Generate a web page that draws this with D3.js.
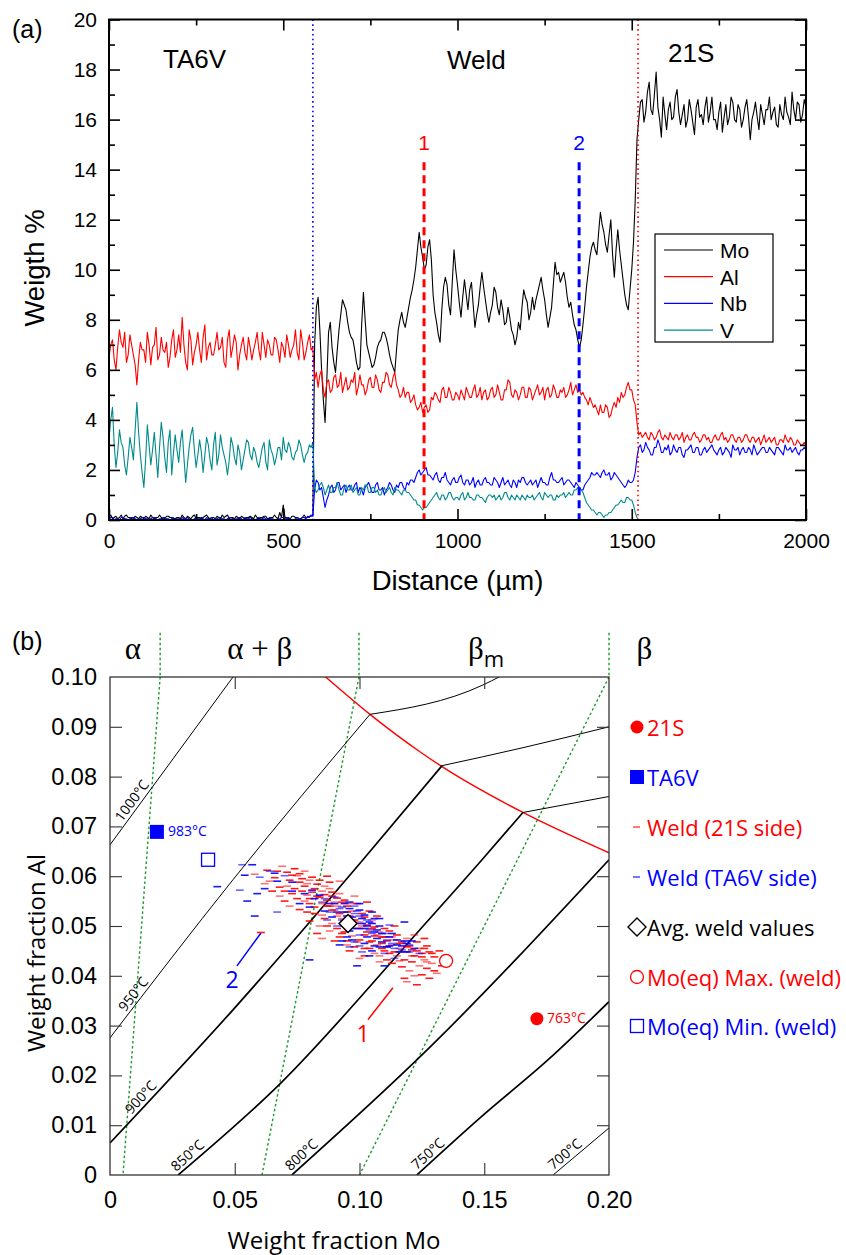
<!DOCTYPE html>
<html><head><meta charset="utf-8">
<script src="https://cdn.jsdelivr.net/npm/d3@7"></script>
<style>body{margin:0;background:#fff}svg{display:block}</style>
</head><body>
<svg id="c" width="846" height="1255"></svg>
<script>
// ---------------- Panel (a) data : line profile, sampled every 5 µm (one row = 100 µm) ----------------
const distanceUm = d3.range(0, 2001, 5);
const moWt = [
 0.10,0.20,0.05,0.10,0.15,0.05,0.10,0.20,0.05,0.15,0.20,0.10,0.10,0.05,0.05,0.15,0.10,0.05,0.15,0.10,
 0.05,0.15,0.10,0.05,0.20,0.10,0.05,0.10,0.10,0.20,0.10,0.05,0.05,0.15,0.15,0.10,0.10,0.05,0.05,0.10,
 0.10,0.05,0.20,0.10,0.05,0.15,0.10,0.05,0.15,0.20,0.05,0.10,0.10,0.05,0.10,0.15,0.20,0.10,0.05,0.10,
 0.10,0.05,0.15,0.10,0.05,0.20,0.10,0.15,0.20,0.05,0.10,0.10,0.05,0.15,0.10,0.05,0.15,0.10,0.05,0.10,
 0.10,0.15,0.10,0.05,0.20,0.10,0.05,0.10,0.10,0.15,0.15,0.05,0.05,0.10,0.10,0.20,0.10,0.05,0.30,0.10,
 0.60,0.10,0.10,0.05,0.05,0.15,0.15,0.10,0.10,0.05,0.05,0.10,0.20,0.10,0.10,0.15,0.15,0.20,7.0,8.5,
 8.9,7.6,6.0,4.8,3.9,5.6,7.5,7.9,6.9,6.3,5.9,6.8,7.6,8.2,8.8,8.6,8.4,7.9,7.5,7.3,
 7.2,6.8,6.3,6.0,6.1,7.8,9.1,8.0,7.0,6.7,6.4,6.1,6.2,6.5,6.9,7.1,7.2,7.5,7.5,7.3,
 7.0,6.6,6.3,6.1,5.9,6.8,7.6,8.0,8.3,7.9,7.7,8.1,8.5,8.9,9.2,9.6,10.1,10.8,11.5,10.9,
 10.5,10.0,10.2,10.9,11.2,10.4,9.0,8.3,7.9,7.4,7.1,8.4,9.3,9.7,9.4,8.6,8.2,9.5,10.8,10.0,
 9.4,8.7,8.1,8.9,9.6,9.0,8.4,9.2,9.5,8.6,7.7,8.2,8.6,9.3,9.9,9.3,8.8,8.3,7.9,8.3,
 8.6,9.3,9.1,8.5,8.2,8.8,8.4,7.8,7.9,8.5,8.1,7.6,7.4,7.0,7.3,7.9,7.6,8.5,9.2,8.9,
 8.7,8.0,8.3,8.9,8.4,8.8,9.1,9.4,9.7,9.2,8.8,8.2,7.7,8.1,8.5,9.4,10.3,9.8,9.9,9.5,
 9.7,9.9,9.5,8.9,8.5,8.7,8.2,7.8,7.6,7.2,6.9,7.2,7.8,8.5,9.3,9.9,10.5,10.9,11.1,10.8,
 10.6,11.5,12.3,11.8,11.5,11.0,10.7,11.4,12.0,10.6,9.7,10.8,11.6,10.8,10.2,9.6,9.0,8.6,8.4,9.2,
 10.0,11.1,12.8,15.2,16.0,16.7,16.8,15.9,16.3,17.1,17.5,16.4,16.2,17.0,17.9,16.5,16.0,15.3,16.9,16.2,
 15.6,16.4,16.7,16.0,16.1,16.9,17.2,16.3,15.8,16.2,16.6,15.7,16.0,16.8,16.4,15.9,15.4,16.5,16.8,16.1,
 16.2,15.8,16.5,16.9,15.9,16.3,16.9,16.0,16.0,15.6,16.3,16.7,15.5,16.1,16.6,15.8,16.1,16.9,16.7,16.0,
 15.9,16.6,16.4,15.7,16.0,16.5,16.8,16.1,15.2,16.0,16.3,16.7,16.1,15.6,16.6,16.2,15.8,16.4,16.4,16.9,
 16.0,16.3,16.5,15.8,15.7,16.6,16.2,16.0,16.9,16.3,16.1,15.8,17.1,16.4,16.0,16.7,16.6,15.9,16.2,16.8,
 16.5];
const alWt = [
 6.5,7.0,7.2,6.4,6.0,6.9,7.6,7.1,6.9,7.5,6.3,6.6,7.4,7.0,6.6,6.2,5.4,6.4,7.1,6.8,
 6.8,6.3,7.5,7.0,6.2,6.9,7.0,7.7,6.4,6.6,7.3,6.8,6.7,7.1,6.1,6.5,7.2,7.6,6.5,6.8,
 7.4,6.7,8.1,7.0,6.3,6.0,7.6,7.2,6.2,6.7,7.0,7.5,6.8,6.3,7.3,7.8,6.4,6.9,7.1,6.6,
 6.6,7.0,7.5,6.8,6.9,7.3,6.3,6.1,7.2,7.6,6.5,6.9,7.4,7.1,6.0,6.6,7.0,7.3,6.7,6.4,
 7.3,6.9,6.4,6.8,7.1,7.5,6.8,6.4,7.5,7.0,6.5,7.2,7.0,6.6,6.6,7.3,7.2,6.8,6.3,7.1,
 6.9,6.5,7.4,7.0,6.5,6.8,7.0,7.6,6.7,6.4,7.6,7.1,6.4,6.7,7.1,7.4,6.8,6.9,5.6,5.9,
 5.3,5.8,6.0,5.2,4.9,5.5,5.6,5.1,5.2,5.7,5.8,5.3,5.4,5.9,5.1,5.4,5.7,5.2,5.3,5.6,
 5.5,5.9,5.0,5.3,5.8,5.4,5.4,5.0,5.2,5.6,5.7,5.3,5.3,5.8,5.6,5.2,5.1,5.5,5.5,5.9,
 5.8,5.4,5.3,5.7,5.9,5.4,5.2,4.9,5.0,5.3,4.9,5.1,5.1,4.7,4.8,5.0,4.6,4.4,4.5,4.7,
 4.3,4.5,4.6,4.3,4.4,4.9,4.8,5.1,5.0,4.8,4.7,5.2,5.3,4.9,4.9,5.3,5.1,4.8,4.8,5.1,
 5.0,4.8,5.2,5.0,4.8,5.3,5.1,4.9,4.9,5.2,5.4,4.9,5.0,5.3,4.8,5.1,5.2,4.8,4.9,5.2,
 5.3,4.9,5.0,5.4,5.1,4.8,4.8,5.2,5.2,5.6,5.5,5.0,4.9,5.2,5.1,4.8,5.0,5.3,5.3,4.9,
 4.9,5.3,5.2,4.8,5.0,5.2,5.4,5.0,5.1,5.3,4.8,5.2,5.3,4.9,5.0,5.4,5.2,4.9,4.9,5.2,
 5.1,5.3,4.9,5.0,5.2,5.5,5.0,5.2,5.4,5.1,5.2,5.0,5.1,4.9,4.8,4.6,4.9,4.7,4.5,4.6,
 4.4,4.2,4.6,4.3,4.3,4.6,4.5,4.1,4.2,4.5,4.7,4.5,4.9,4.7,5.1,4.9,5.0,5.3,5.5,5.2,
 5.2,4.8,4.6,3.9,3.4,3.5,3.3,3.4,3.5,3.3,3.2,3.5,3.4,3.2,3.3,3.5,3.6,3.3,3.2,3.4,
 3.3,3.2,3.5,3.3,3.2,3.4,3.4,3.2,3.3,3.5,3.1,3.3,3.4,3.2,3.2,3.4,3.5,3.3,3.3,3.1,
 3.2,3.4,3.4,3.2,3.3,3.1,3.1,3.3,3.4,3.2,3.2,3.4,3.5,3.2,3.3,3.1,3.2,3.4,3.4,3.2,
 3.1,3.3,3.3,3.1,3.2,3.4,3.4,3.2,3.1,3.3,3.3,3.1,3.2,3.3,3.0,3.2,3.4,3.1,3.2,3.3,
 3.1,3.2,3.3,3.0,3.0,3.2,3.2,3.1,3.4,3.2,3.1,3.3,3.2,3.0,3.0,3.2,3.1,3.0,3.0,3.1,
 3.0];
const nbWt = [
 0.05,0.10,0.10,0.00,0.05,0.05,0.00,0.10,0.10,0.05,0.05,0.00,0.05,0.10,0.10,0.05,0.00,0.05,0.05,0.10,
 0.10,0.05,0.05,0.00,0.05,0.10,0.10,0.05,0.00,0.05,0.05,0.10,0.10,0.05,0.05,0.00,0.05,0.10,0.00,0.05,
 0.05,0.00,0.10,0.05,0.05,0.10,0.05,0.00,0.00,0.05,0.10,0.05,0.05,0.10,0.05,0.00,0.10,0.05,0.05,0.10,
 0.00,0.05,0.05,0.10,0.10,0.05,0.05,0.00,0.05,0.10,0.10,0.05,0.00,0.05,0.05,0.10,0.05,0.00,0.10,0.05,
 0.05,0.10,0.05,0.00,0.00,0.05,0.10,0.05,0.05,0.10,0.05,0.00,0.10,0.05,0.05,0.00,0.00,0.05,0.05,0.10,
 0.10,0.05,0.05,0.10,0.05,0.00,0.00,0.05,0.10,0.05,0.05,0.10,0.10,0.05,0.15,0.10,0.20,0.15,1.2,1.6,
 1.5,1.2,1.3,0.9,0.5,0.8,1.0,1.3,1.4,1.1,1.2,1.5,1.5,1.2,1.3,1.4,1.1,1.3,1.4,1.2,
 1.2,1.4,1.5,1.1,1.3,1.2,1.0,1.3,1.4,1.5,1.3,1.1,1.1,1.4,1.5,1.2,1.2,1.3,1.0,1.2,
 1.3,1.5,1.4,1.2,1.1,1.4,1.3,1.5,1.5,1.3,1.2,1.5,1.4,1.6,1.6,1.5,1.7,1.9,2.0,1.8,
 1.9,2.0,2.1,1.8,1.8,1.7,1.6,1.8,1.9,1.6,1.5,1.7,1.7,1.9,1.6,1.5,1.4,1.6,1.7,1.5,
 1.5,1.7,1.8,1.5,1.4,1.6,1.6,1.4,1.5,1.7,1.3,1.5,1.6,1.4,1.4,1.6,1.7,1.5,1.5,1.4,
 1.4,1.7,1.6,1.5,1.3,1.5,1.7,1.4,1.5,1.6,1.4,1.3,1.6,1.5,1.3,1.6,1.5,1.7,1.7,1.5,
 1.4,1.5,1.6,1.4,1.5,1.6,1.3,1.5,1.7,1.5,1.5,1.4,1.4,1.7,1.9,1.6,1.6,1.5,1.5,1.6,
 1.7,1.4,1.5,1.6,1.6,1.5,1.4,1.3,1.5,1.4,1.3,1.2,1.2,1.4,1.5,1.6,1.7,1.9,1.8,1.8,
 1.9,1.8,1.7,1.9,2.0,1.8,1.8,1.9,1.6,1.7,1.9,1.8,1.7,1.6,1.5,1.4,1.3,1.4,1.6,1.5,
 1.5,1.6,1.9,2.5,2.9,3.0,2.7,2.8,3.1,2.9,2.8,2.6,2.6,2.9,2.9,3.2,3.0,2.7,2.7,2.9,
 2.8,3.0,2.6,2.7,3.0,2.8,2.7,2.9,2.9,2.6,2.5,2.8,2.8,2.9,3.0,2.7,2.7,2.9,2.9,2.6,
 2.6,2.8,2.9,2.7,2.8,2.9,3.0,2.8,2.7,2.6,2.8,2.9,2.6,2.7,2.9,2.8,2.7,2.5,3.0,2.8,
 2.8,2.9,2.6,2.8,2.9,2.7,2.7,2.9,2.8,2.6,3.0,2.8,2.6,2.7,2.8,2.9,2.9,2.7,2.7,2.9,
 2.8,2.7,2.6,2.9,2.9,2.8,2.7,2.6,3.0,2.8,2.8,2.9,2.7,2.8,2.9,2.7,2.6,2.8,2.8,2.9,
 2.8];
const vWt = [
 3.2,4.0,4.5,3.0,2.1,2.7,3.6,3.1,2.9,2.2,1.8,2.5,3.3,2.9,2.4,3.6,4.7,3.5,2.6,1.9,
 1.3,2.4,3.8,3.0,2.2,2.8,3.5,2.6,1.7,2.9,3.9,3.3,2.5,1.9,3.1,3.6,1.8,2.7,3.4,2.8,
 2.3,3.1,3.6,2.5,1.5,2.2,2.9,3.4,3.7,2.8,2.1,2.6,3.2,2.7,1.9,2.6,3.3,3.0,2.4,2.0,
 3.0,3.5,2.2,2.6,3.4,2.9,2.6,2.3,1.8,2.4,3.3,3.0,2.5,2.2,3.0,2.7,2.0,2.4,2.8,3.2,
 3.1,2.6,2.4,2.9,2.7,2.3,2.1,2.5,2.9,3.1,2.3,2.0,3.2,2.8,2.6,2.2,2.5,2.9,2.9,2.4,
 3.3,2.8,2.7,3.1,2.9,2.5,2.4,2.7,2.8,3.2,3.0,2.6,2.3,2.6,2.7,3.0,2.9,3.1,1.3,1.1,
 1.2,1.4,1.5,1.3,1.0,1.2,1.4,1.1,1.1,1.3,1.3,1.5,1.2,1.0,1.0,1.3,1.4,1.2,1.2,1.4,
 1.1,1.2,1.3,1.0,1.0,1.3,1.2,1.4,1.4,1.1,1.1,1.3,1.3,1.1,1.2,1.0,1.0,1.2,1.3,1.1,
 1.2,1.3,1.1,1.0,1.3,1.2,1.2,1.1,1.0,1.2,1.2,1.1,1.1,1.0,0.9,0.8,0.8,0.6,0.6,0.5,
 0.4,0.5,0.5,0.6,0.7,0.8,0.9,1.0,1.1,0.9,0.8,1.0,1.0,0.8,0.9,1.1,1.1,0.9,0.8,0.9,
 0.9,0.8,1.0,1.1,0.8,0.9,1.1,0.9,0.9,0.8,0.8,1.0,1.0,0.9,0.9,0.8,0.7,0.9,1.0,1.0,
 0.9,1.0,0.8,0.9,1.0,0.8,0.9,1.1,1.1,0.9,0.8,1.0,0.9,0.8,1.0,0.9,0.8,1.0,0.9,0.8,
 1.0,0.9,0.9,1.0,0.8,0.9,1.0,1.1,0.9,0.8,1.1,1.0,0.9,1.0,1.0,0.8,0.8,1.0,0.9,1.0,
 1.0,1.1,0.9,1.0,1.1,1.0,1.0,1.2,1.2,1.3,1.3,1.2,1.1,0.9,0.7,0.6,0.5,0.4,0.4,0.3,
 0.2,0.3,0.3,0.2,0.1,0.2,0.2,0.3,0.3,0.4,0.5,0.6,0.6,0.7,0.8,0.7,0.7,0.9,0.9,0.8,
 0.8,0.6,0.3,0.1,0,0,0,0,0,0,0,0,0,0,0,0,0,0,0,0,
 0,0,0,0,0,0,0,0,0,0,0,0,0,0,0,0,0,0,0,0,
 0,0,0,0,0,0,0,0,0,0,0,0,0,0,0,0,0,0,0,0,
 0,0,0,0,0,0,0,0,0,0,0,0,0,0,0,0,0,0,0,0,
 0,0,0,0,0,0,0,0,0,0,0,0,0,0,0,0,0,0,0,0,
 0];
const seriesNames = ['Mo','Al','Nb','V'];
const xTicksA = [0,500,1000,1500,2000];
const xMinorA = [250,750,1250,1750];
const yTicksA = [0,2,4,6,8,10,12,14,16,18,20];
const yMinorA = [1,3,5,7,9,11,13,15,17,19];
const zoneBoundsUm = [585, 1518];          // TA6V|Weld, Weld|21S
const zoneNames = ['TA6V','Weld','21S'];
const zoneLabelUm = [155, 970, 1604];
const profileLinesUm = [{id:'1', x:904, top:14.3}, {id:'2', x:1349, top:14.3}];

// ---------------- Panel (b) data : Mo–Al diagram ----------------
const xTicksB = [0,0.05,0.10,0.15,0.20];
const yTicksB = [0,0.01,0.02,0.03,0.04,0.05,0.06,0.07,0.08,0.09,0.10];
const isoLabels = ['1000°C','950°C','900°C','850°C','800°C','750°C','700°C'];
const isoSteep = [
 [[0,0.0663],[0.0493,0.1]],
 [[0,0.02754],[0.0493,0.0593],[0.1042,0.0925]],
 [[0,0.00643],[0.0493,0.03317],[0.1014,0.0633],[0.1331,0.0822]],
 [[0.0273,0],[0.0669,0.01769],[0.1242,0.04925],[0.1491,0.0633],[0.1655,0.0728]],
 [[0.0729,0],[0.1242,0.0237],[0.2,0.0633]],
 [[0.1230,0],[0.1483,0.01146],[0.1764,0.0235],[0.2,0.0348]],
 [[0.1776,0],[0.2,0.00945]]
];
const isoFlat = [
 null,
 [[0.1042,0.0925],[0.1495,0.0984],[0.1563,0.1001]],
 [[0.1331,0.0822],[0.1655,0.0858],[0.2,0.0900]],
 [[0.1655,0.0728],[0.2,0.0760]],
 null, null, null
];
const isoHeavy = [false,false,true,true,true,true,false];
const isoLabelMo = [0.0115,0.012,0.0148,0.0333,0.079,0.1297,0.1845];
const betaMBoundary = [[0.0862,0.1001],[0.1042,0.0925],[0.1242,0.0850],[0.1331,0.0820],[0.1655,0.0728],[0.2,0.0647]];
const phaseLimits = [ [[0.0201,0.1],[0.0052,0]], [[0.0998,0.1],[0.0609,0]], [[0.2,0.1],[0.1000,0]] ];
const phaseLimitTopAl = 0.1089;
const regionNames = ['α','α + β','β','β'];
const regionMo = [0.0092,0.060,0.1435,0.2142];
const base21S = [0.1711,0.0314], base21STemp = '763°C';
const baseTA6V = [0.0188,0.0689], baseTA6VTemp = '983°C';
const avgWeld = [0.0954,0.0505];
const moEqMax = [0.1347,0.0430];
const moEqMin = [0.0393,0.0633];
const profileMarksB = [ {id:'1', from:[0.1034,0.0312], to:[0.1134,0.0376]}, {id:'2', from:[0.0509,0.0420], to:[0.0605,0.0486]} ];
const weld21S = [
 [0.058,0.0604],[0.063,0.0612],[0.066,0.0597],[0.069,0.0620],[0.071,0.0608],[0.074,0.0615],[0.062,0.0585],[0.068,0.0578],[0.072,0.0592],[0.075,0.0601],
 [0.076,0.0588],[0.078,0.0580],[0.080,0.0592],[0.082,0.0575],[0.077,0.0570],[0.079,0.0562],[0.081,0.0568],[0.083,0.0584],[0.085,0.0570],[0.084,0.0558],
 [0.086,0.0563],[0.088,0.0575],[0.087,0.0552],[0.089,0.0560],[0.090,0.0548],[0.073,0.0565],[0.075,0.0555],[0.078,0.0550],[0.080,0.0545],[0.082,0.0538],
 [0.085,0.0545],[0.088,0.0540],[0.091,0.0556],[0.092,0.0565],[0.094,0.0552],[0.070,0.0550],[0.072,0.0540],[0.076,0.0533],[0.079,0.0528],
 [0.090,0.0532],[0.092,0.0525],[0.095,0.0540],[0.097,0.0530],[0.099,0.0545],[0.101,0.0525],[0.093,0.0515],[0.096,0.0520],[0.098,0.0512],[0.100,0.0508],
 [0.102,0.0518],[0.104,0.0530],[0.089,0.0505],[0.091,0.0495],[0.094,0.0488],[0.097,0.0480],[0.100,0.0495],[0.103,0.0502],[0.105,0.0512],[0.106,0.0498],
 [0.086,0.0515],[0.088,0.0490],[0.092,0.0478],[0.095,0.0470],[0.099,0.0468],[0.102,0.0482],[0.107,0.0520],[0.084,0.0500],[0.083,0.0485],[0.090,0.0470],
 [0.108,0.0488],[0.110,0.0478],[0.112,0.0490],[0.114,0.0472],[0.109,0.0465],[0.111,0.0458],[0.113,0.0462],[0.115,0.0482],[0.117,0.0468],[0.116,0.0455],
 [0.118,0.0448],[0.120,0.0460],[0.119,0.0475],[0.121,0.0452],[0.122,0.0440],[0.124,0.0455],[0.123,0.0468],[0.125,0.0445],[0.126,0.0432],[0.127,0.0460],
 [0.128,0.0448],[0.129,0.0425],[0.130,0.0438],[0.127,0.0415],[0.124,0.0420],[0.121,0.0428],[0.118,0.0432],[0.115,0.0440],[0.112,0.0445],[0.110,0.0450],
 [0.107,0.0462],[0.105,0.0470],[0.104,0.0455],[0.108,0.0440],[0.113,0.0425],[0.117,0.0418],[0.120,0.0410],[0.125,0.0402],[0.128,0.0395],[0.131,0.0405],
 [0.132,0.0450],[0.126,0.0475],[0.122,0.0482],[0.110,0.0495],[0.106,0.0480],
 [0.100,0.0435],[0.096,0.0450],[0.102,0.0440],[0.085,0.0475],[0.080,0.0510],[0.114,0.0500],[0.119,0.0388],[0.123,0.0382],[0.133,0.0420],[0.068,0.0560],
 [0.065,0.0570],[0.0605,0.0487],[0.098,0.0560],[0.103,0.0548],[0.087,0.0600],[0.078,0.0610],
 [0.074,0.0575],[0.077,0.0595],[0.079,0.0585],[0.081,0.0598],[0.083,0.0560],[0.086,0.0580],[0.084,0.0592],[0.089,0.0568],[0.091,0.0540],[0.093,0.0548],
 [0.095,0.0528],[0.097,0.0545],[0.096,0.0505],[0.094,0.0500],[0.101,0.0500],[0.103,0.0488],[0.105,0.0495],[0.107,0.0482],[0.109,0.0478],[0.111,0.0470],
 [0.113,0.0478],[0.116,0.0465],[0.119,0.0458],[0.121,0.0440],[0.123,0.0450],[0.125,0.0438],[0.127,0.0428],[0.129,0.0445],[0.126,0.0455],[0.116,0.0430],
 [0.114,0.0448],[0.109,0.0455],[0.106,0.0445],[0.102,0.0455],[0.098,0.0458],[0.095,0.0462],[0.093,0.0485],[0.087,0.0500],[0.085,0.0522],[0.082,0.0525],
 [0.080,0.0555],[0.071,0.0580],[0.073,0.0602],[0.067,0.0610],[0.064,0.0590],[0.070,0.0570],[0.076,0.0605],[0.092,0.0590],[0.088,0.0588],[0.130,0.0410],
 [0.122,0.0400],[0.118,0.0395],[0.111,0.0432],[0.108,0.0428],[0.104,0.0468],[0.100,0.0472],[0.097,0.0495],[0.089,0.0532],[0.087,0.0540],[0.091,0.0520]
];
const weldTA6V = [
 [0.043,0.0579],[0.053,0.0623],[0.057,0.0623],[0.054,0.0602],[0.060,0.0598],[0.066,0.0606],[0.067,0.0590],[0.052,0.0572],[0.055,0.0550],[0.062,0.0575],
 [0.070,0.0601],[0.073,0.0588],[0.058,0.0520],[0.067,0.0528],
 [0.078,0.0565],[0.082,0.0555],[0.085,0.0548],[0.088,0.0545],[0.080,0.0538],[0.090,0.0558],[0.076,0.0545],[0.086,0.0530],
 [0.092,0.0535],[0.094,0.0528],[0.096,0.0535],[0.098,0.0525],[0.100,0.0532],[0.102,0.0522],[0.093,0.0512],[0.097,0.0508],[0.101,0.0505],[0.103,0.0512],
 [0.105,0.0505],[0.099,0.0495],[0.104,0.0492],[0.106,0.0488],[0.108,0.0500],[0.100,0.0482],[0.103,0.0478],[0.107,0.0475],[0.110,0.0485],[0.112,0.0478],
 [0.109,0.0468],[0.113,0.0465],[0.115,0.0472],[0.111,0.0458],[0.114,0.0455],[0.117,0.0460],[0.096,0.0490],[0.091,0.0500],[0.089,0.0518],[0.095,0.0478],
 [0.098,0.0468],[0.102,0.0465],[0.106,0.0460],[0.110,0.0445],[0.116,0.0448],[0.118,0.0470],[0.120,0.0462],[0.105,0.0528],[0.108,0.0515],[0.112,0.0502],
 [0.100,0.0545],[0.094,0.0545],[0.088,0.0528],
 [0.119,0.0448],[0.122,0.0455],[0.124,0.0445],[0.121,0.0470],[0.104,0.0440],[0.096,0.0458],[0.092,0.0462],[0.080,0.0432],[0.114,0.0435],[0.110,0.0420],
 [0.118,0.0508],[0.100,0.0460],[0.099,0.0420],
 [0.091,0.0528],[0.093,0.0538],[0.095,0.0520],[0.097,0.0518],[0.099,0.0530],[0.101,0.0515],[0.103,0.0500],[0.105,0.0485],[0.107,0.0492],[0.109,0.0485],
 [0.111,0.0472],[0.113,0.0485],[0.115,0.0462],[0.117,0.0452],[0.119,0.0465],[0.102,0.0495],[0.098,0.0505],[0.104,0.0508],[0.106,0.0515],[0.100,0.0520],
 [0.094,0.0510],[0.096,0.0548],[0.098,0.0540],[0.108,0.0458],[0.112,0.0460],[0.120,0.0448],[0.084,0.0562],[0.081,0.0572],[0.086,0.0555],[0.090,0.0545],
 [0.073,0.0570],[0.064,0.0610],[0.059,0.0565],[0.105,0.0450],[0.101,0.0448],[0.097,0.0472],[0.093,0.0470],[0.087,0.0512]
];
const legendB = ['21S','TA6V','Weld (21S side)','Weld (TA6V side)','Avg. weld values','Mo(eq) Max. (weld)','Mo(eq) Min. (weld)'];

// ================= drawing =================
const RED='#ff0000', BLUE='#0000ff', TEAL='#008b8b';
const svg = d3.select('#c');
const defs = svg.append('defs');

// ---------- Panel (a) ----------
const xa = d3.scaleLinear().domain([0,2000]).range([109,806]);
const ya = d3.scaleLinear().domain([0,20]).range([520,19.5]);
defs.append('clipPath').attr('id','clipA').append('rect')
  .attr('x',xa(0)).attr('y',ya(20)).attr('width',xa(2000)-xa(0)).attr('height',ya(0)-ya(20)+1);
const A = svg.append('g').attr('font-family','"Liberation Sans", Arial, sans-serif');
const seriesData = [moWt, alWt, nbWt, vWt];
const seriesColor = ['#000000', RED, BLUE, TEAL];
const lineA = d3.line().x((d,i)=>xa(distanceUm[i])).y(d=>ya(d));
const plotA = A.append('g').attr('clip-path','url(#clipA)');
seriesData.forEach((vals,k)=>{
  plotA.append('path').attr('d', lineA(vals)).attr('fill','none')
    .attr('stroke', seriesColor[k]).attr('stroke-width',1.1).attr('stroke-linejoin','round');
});
plotA.append('line').attr('x1',xa(zoneBoundsUm[0])).attr('x2',xa(zoneBoundsUm[0]))
  .attr('y1',ya(20)).attr('y2',ya(0)).attr('stroke',BLUE).attr('stroke-width',1.6).attr('stroke-dasharray','1.6,3.2');
plotA.append('line').attr('x1',xa(zoneBoundsUm[1])).attr('x2',xa(zoneBoundsUm[1]))
  .attr('y1',ya(20)).attr('y2',ya(0)).attr('stroke',RED).attr('stroke-width',1.6).attr('stroke-dasharray','1.6,3.2');
profileLinesUm.forEach((p,i)=>{
  const col = i===0?RED:BLUE;
  plotA.append('line').attr('x1',xa(p.x)).attr('x2',xa(p.x)).attr('y1',ya(p.top)).attr('y2',ya(0))
    .attr('stroke',col).attr('stroke-width',3).attr('stroke-dasharray','8,5');
  A.append('text').attr('x',xa(p.x)).attr('y',ya(p.top)-12).attr('text-anchor','middle')
    .attr('font-size',21).attr('fill',col).text(p.id);
});
function styleAxis(g, fs){
  g.select('.domain').remove();
  g.selectAll('.tick line').attr('stroke','#000').attr('stroke-width',1.6);
  g.selectAll('.tick text').attr('font-size',fs).attr('fill','#000').attr('font-family',null);
}
A.append('g').attr('transform',`translate(0,${ya(0)})`)
  .call(d3.axisBottom(xa).tickValues(xTicksA).tickSize(-11).tickPadding(13).tickFormat(d3.format('d'))).call(g=>styleAxis(g,21));
A.append('g').attr('transform',`translate(0,${ya(0)})`)
  .call(d3.axisBottom(xa).tickValues(xMinorA).tickSize(-6).tickFormat('')).call(g=>styleAxis(g,21));
A.append('g').attr('transform',`translate(0,${ya(20)})`)
  .call(d3.axisTop(xa).tickValues(xTicksA).tickSize(-11).tickFormat('')).call(g=>styleAxis(g,21));
A.append('g').attr('transform',`translate(0,${ya(20)})`)
  .call(d3.axisTop(xa).tickValues(xMinorA).tickSize(-6).tickFormat('')).call(g=>styleAxis(g,21));
A.append('g').attr('transform',`translate(${xa(0)},0)`)
  .call(d3.axisLeft(ya).tickValues(yTicksA).tickSize(-11).tickPadding(12).tickFormat(d3.format('d'))).call(g=>styleAxis(g,21));
A.append('g').attr('transform',`translate(${xa(0)},0)`)
  .call(d3.axisLeft(ya).tickValues(yMinorA).tickSize(-6).tickFormat('')).call(g=>styleAxis(g,21));
A.append('g').attr('transform',`translate(${xa(2000)},0)`)
  .call(d3.axisRight(ya).tickValues(yTicksA).tickSize(-11).tickFormat('')).call(g=>styleAxis(g,21));
A.append('g').attr('transform',`translate(${xa(2000)},0)`)
  .call(d3.axisRight(ya).tickValues(yMinorA).tickSize(-6).tickFormat('')).call(g=>styleAxis(g,21));
A.append('rect').attr('x',xa(0)).attr('y',ya(20)).attr('width',xa(2000)-xa(0)).attr('height',ya(0)-ya(20))
  .attr('fill','none').attr('stroke','#000').attr('stroke-width',2);
const zoneBase = [68,69,62];
zoneNames.forEach((n,i)=>A.append('text').attr('x',xa(zoneLabelUm[i])).attr('y',zoneBase[i])
  .attr('font-size',26).text(n));
A.append('text').attr('x',12).attr('y',38).attr('font-size',25).text('(a)');
A.append('text').attr('transform',`translate(44,268) rotate(-90)`).attr('text-anchor','middle')
  .attr('font-size',27.5).text('Weigth %');
A.append('text').attr('x',(xa(0)+xa(2000))/2).attr('y',590).attr('text-anchor','middle')
  .attr('font-size',27.5).text('Distance (µm)');
const LA = A.append('g');
LA.append('rect').attr('x',655).attr('y',234).attr('width',118).attr('height',108).attr('fill','#fff').attr('stroke','#000').attr('stroke-width',1.2);
seriesNames.forEach((n,i)=>{
  const yy = 250 + i*26.7;
  LA.append('line').attr('x1',664).attr('x2',713).attr('y1',yy).attr('y2',yy).attr('stroke',seriesColor[i]).attr('stroke-width',1.2);
  LA.append('text').attr('x',720).attr('y',yy+8).attr('font-size',21).text(n);
});

// ---------- Panel (b) ----------
const xb = d3.scaleLinear().domain([0,0.2]).range([110,609]);
const yb = d3.scaleLinear().domain([0,0.1]).range([1175,677]);
defs.append('clipPath').attr('id','clipB').append('rect')
  .attr('x',xb(0)).attr('y',yb(0.1)).attr('width',xb(0.2)-xb(0)).attr('height',yb(0)-yb(0.1));
const B = svg.append('g').attr('font-family','"Open Sans", "Noto Sans", sans-serif');
const plotB = B.append('g').attr('clip-path','url(#clipB)');
const lineB = d3.line().x(d=>xb(d[0])).y(d=>yb(d[1]));
phaseLimits.forEach(p=>{
  plotB.append('path').attr('d',lineB(p)).attr('fill','none').attr('stroke','#1a9a2a').attr('stroke-width',1.4).attr('stroke-dasharray','2.5,2.5');
  B.append('line').attr('x1',xb(p[0][0])).attr('x2',xb(p[0][0])).attr('y1',yb(phaseLimitTopAl)).attr('y2',yb(0.1))
    .attr('stroke','#1a9a2a').attr('stroke-width',1.4).attr('stroke-dasharray','2.5,2.5');
});
plotB.append('path').attr('d',d3.line().x(d=>xb(d[0])).y(d=>yb(d[1])).curve(d3.curveMonotoneX)(betaMBoundary))
  .attr('fill','none').attr('stroke',RED).attr('stroke-width',1.4);
const lineIso = d3.line().x(d=>xb(d[0])).y(d=>yb(d[1])).curve(d3.curveMonotoneX);
isoSteep.forEach((pts,i)=>{
  const w = isoHeavy[i]?1.7:1.0;
  plotB.append('path').attr('d',lineIso(pts)).attr('fill','none').attr('stroke','#000').attr('stroke-width',w);
  if(isoFlat[i]) plotB.append('path').attr('d',lineIso(isoFlat[i])).attr('fill','none').attr('stroke','#000').attr('stroke-width',1.0);
  const m = isoLabelMo[i];
  let k = 0; while(k < pts.length-2 && pts[k+1][0] < m) k++;
  const a = pts[k], b = pts[k+1];
  const t = (m-a[0])/(b[0]-a[0]);
  const al = a[1] + t*(b[1]-a[1]);
  const ang = Math.atan2(yb(b[1])-yb(a[1]), xb(b[0])-xb(a[0]))*180/Math.PI;
  B.append('text').attr('transform',`translate(${xb(m)},${yb(al)}) rotate(${ang})`)
    .attr('text-anchor','middle').attr('dy',-3.5).attr('font-size',14).text(isoLabels[i]);
});
profileMarksB.forEach((p,i)=>{
  const col = i===0?RED:BLUE;
  B.append('line').attr('x1',xb(p.from[0])).attr('y1',yb(p.from[1])).attr('x2',xb(p.to[0])).attr('y2',yb(p.to[1]))
    .attr('stroke',col).attr('stroke-width',1.5);
  B.append('text').attr('x',xb(p.from[0])-5).attr('y',yb(p.from[1])+22).attr('text-anchor','middle')
    .attr('font-size',23).attr('fill',col).text(p.id);
});
function dash(g, d, col, op){
  g.append('line').attr('x1',xb(d[0])-3.9).attr('x2',xb(d[0])+3.9).attr('y1',yb(d[1])).attr('y2',yb(d[1]))
    .attr('stroke',col).attr('stroke-width',1.6).attr('opacity',op);
}
const WR = B.append('g'), WB = B.append('g');
weld21S.forEach((d,i)=>dash(WR,d,RED, i%3===0?0.55:0.9));
weldTA6V.forEach((d,i)=>dash(WB,d,BLUE, i%3===1?0.6:0.9));
B.append('path').attr('d',d3.symbol(d3.symbolSquare, 196)()).attr('transform',`translate(${xb(baseTA6V[0])},${yb(baseTA6V[1])})`).attr('fill',BLUE);
B.append('text').attr('x',xb(baseTA6V[0])+11).attr('y',yb(baseTA6V[1])+4).attr('font-size',14).attr('fill',BLUE).text(baseTA6VTemp);
B.append('circle').attr('cx',xb(base21S[0])).attr('cy',yb(base21S[1])).attr('r',6.5).attr('fill',RED);
B.append('text').attr('x',xb(base21S[0])+10).attr('y',yb(base21S[1])+4).attr('font-size',14).attr('fill',RED).text(base21STemp);
B.append('rect').attr('x',xb(moEqMin[0])-6.5).attr('y',yb(moEqMin[1])-6.5).attr('width',13).attr('height',13).attr('fill','#fff').attr('stroke',BLUE).attr('stroke-width',1.3);
B.append('circle').attr('cx',xb(moEqMax[0])).attr('cy',yb(moEqMax[1])).attr('r',6.5).attr('fill','#fff').attr('stroke',RED).attr('stroke-width',1.3);
B.append('path').attr('d','M0,-9L9,0L0,9L-9,0Z').attr('transform',`translate(${xb(avgWeld[0])},${yb(avgWeld[1])})`)
  .attr('fill','#fff').attr('stroke','#000').attr('stroke-width',1.5);
function styleB(g){
  g.select('.domain').remove();
  g.selectAll('.tick line').attr('stroke','#333').attr('stroke-width',1.1);
  g.selectAll('.tick text').attr('font-size',23.5).attr('fill','#000').attr('font-family',null);
}
const fmtB = d=> d===0 ? '0' : d3.format('.2f')(d);
B.append('g').attr('transform',`translate(0,${yb(0)})`)
  .call(d3.axisBottom(xb).tickValues(xTicksB).tickSize(0).tickPadding(16).tickFormat(fmtB)).call(styleB);
B.append('g').attr('transform',`translate(0,${yb(0)})`)
  .call(d3.axisBottom(xb).tickValues([0.05,0.10,0.15]).tickSize(-12).tickFormat('')).call(styleB);
B.append('g').attr('transform',`translate(0,${yb(0.1)})`)
  .call(d3.axisTop(xb).tickValues([0.05,0.10,0.15]).tickSize(-12).tickFormat('')).call(styleB);
B.append('g').attr('transform',`translate(${xb(0)},0)`)
  .call(d3.axisLeft(yb).tickValues(yTicksB).tickSize(0).tickPadding(13).tickFormat(fmtB)).call(styleB);
B.append('g').attr('transform',`translate(${xb(0)},0)`)
  .call(d3.axisLeft(yb).tickValues(yTicksB.slice(1,10)).tickSize(-12).tickFormat('')).call(styleB);
B.append('g').attr('transform',`translate(${xb(0.2)},0)`)
  .call(d3.axisRight(yb).tickValues(yTicksB.slice(1,10)).tickSize(-12).tickFormat('')).call(styleB);
B.append('rect').attr('x',xb(0)).attr('y',yb(0.1)).attr('width',xb(0.2)-xb(0)).attr('height',yb(0)-yb(0.1))
  .attr('fill','none').attr('stroke','#333').attr('stroke-width',1.3);
B.append('text').attr('x',12).attr('y',650).attr('font-size',25).attr('font-family','"Liberation Sans", Arial, sans-serif').text('(b)');
B.append('text').attr('x',334).attr('y',1249).attr('text-anchor','middle').attr('font-size',24).text('Weight fraction Mo');
B.append('text').attr('transform',`translate(45,953) rotate(-90)`).attr('text-anchor','middle').attr('font-size',24).text('Weight fraction Al');
const RG = B.append('g').attr('font-family','"Liberation Serif", "DejaVu Serif", serif').attr('font-size',31);
regionNames.forEach((n,i)=>{
  const t = RG.append('text').attr('x',xb(regionMo[i])).attr('y',659).attr('text-anchor', i===2?'start':'middle').text(n);
  if(i===2) t.append('tspan').attr('font-family','"Open Sans", sans-serif').attr('font-size',22).attr('dy',8).text('m');
});
const LB = B.append('g').attr('font-size',22);
const legY = [727,777,827,877,927,977,1026];
const legCol = [RED,BLUE,RED,BLUE,'#000',RED,BLUE];
LB.append('circle').attr('cx',637).attr('cy',legY[0]).attr('r',6.5).attr('fill',RED);
LB.append('rect').attr('x',630).attr('y',legY[1]-7).attr('width',14).attr('height',14).attr('fill',BLUE);
LB.append('line').attr('x1',633).attr('x2',640).attr('y1',legY[2]).attr('y2',legY[2]).attr('stroke',RED).attr('stroke-width',1.5).attr('opacity',0.7);
LB.append('line').attr('x1',633).attr('x2',640).attr('y1',legY[3]).attr('y2',legY[3]).attr('stroke',BLUE).attr('stroke-width',1.5).attr('opacity',0.7);
LB.append('path').attr('d','M0,-9L9,0L0,9L-9,0Z').attr('transform',`translate(637,${legY[4]})`).attr('fill','#fff').attr('stroke','#000').attr('stroke-width',1.4);
LB.append('circle').attr('cx',637).attr('cy',legY[5]).attr('r',6.5).attr('fill','#fff').attr('stroke',RED).attr('stroke-width',1.3);
LB.append('rect').attr('x',630.5).attr('y',legY[6]-6.5).attr('width',13).attr('height',13).attr('fill','#fff').attr('stroke',BLUE).attr('stroke-width',1.3);
legendB.forEach((n,i)=>LB.append('text').attr('x',647).attr('y',legY[i]+9).attr('fill',legCol[i]).text(n));
</script>
</body></html>
